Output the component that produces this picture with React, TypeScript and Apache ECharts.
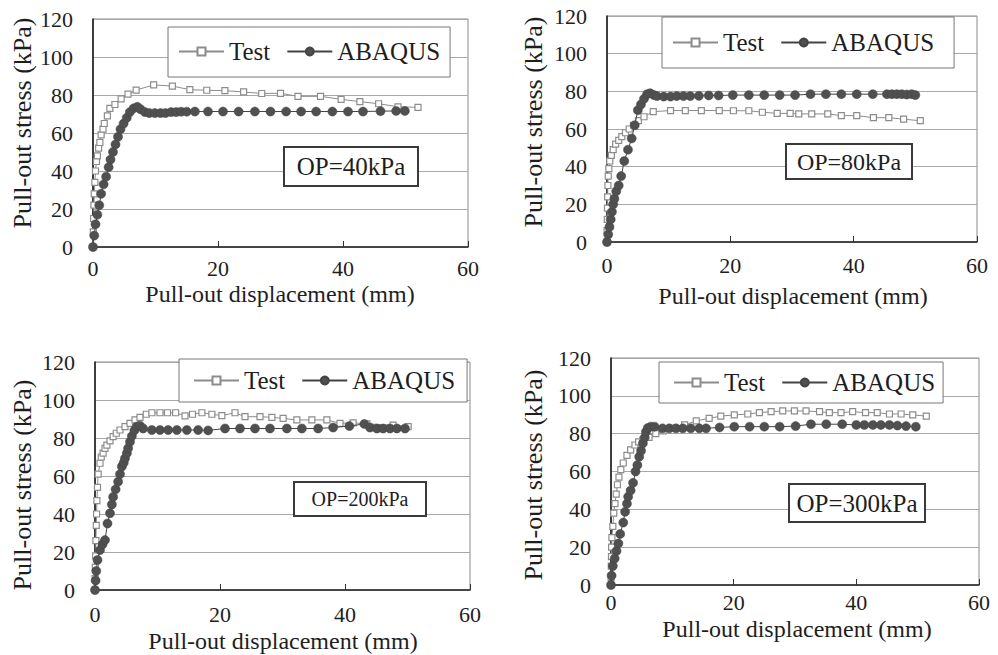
import React, { useEffect, useRef } from "react";
import * as echarts from "echarts";

const seriesNames = ["Test", "ABAQUS"];
const panelLabels = ["OP=40kPa", "OP=80kPa", "OP=200kPa", "OP=300kPa"];
const xAxisTitle = "Pull-out displacement (mm)";
const yAxisTitle = "Pull-out stress (kPa)";
const xRange = [0, 60, 20];
const yRange = [0, 120, 20];

const test40 = [[0,0],[0.05,8],[0.1,15],[0.15,22],[0.2,28],[0.3,34],[0.4,40],[0.55,45],[0.7,48],[0.9,52],[1.1,55],[1.3,59],[1.6,62],[1.8,65],[2.3,69],[2.7,73],[3.5,75],[4.5,78],[5.6,80.5],[6.9,82.6],[9.7,85.3],[12.7,84.7],[15.5,82.8],[18.2,82.5],[21.1,82.3],[24.1,81.6],[27,80.8],[30,80.9],[32.8,79.3],[36.4,79.3],[39.7,77.7],[42.7,76.5],[45.7,75.4],[48.8,73.8],[52,73.5]];
const abaqus40 = [[0,0],[0.2,6],[0.4,12],[0.7,17],[1.0,22],[1.3,28],[1.7,33],[2.1,37],[2.5,42],[2.8,46],[3.2,50],[3.6,54],[4.0,58],[4.4,62],[4.9,65],[5.4,68],[5.9,71],[6.5,73],[7.1,73.8],[7.6,72.5],[8.3,71],[9.0,70.5],[9.9,70.5],[10.8,70.5],[11.6,70.5],[12.5,71],[13.3,71],[14.1,71.2],[15.0,71.2],[16.3,71.3],[18.4,71.3],[20.8,71.3],[23.3,71.3],[25.9,71.3],[28.4,71.3],[30.9,71.3],[33.3,71.3],[35.7,71.3],[38.3,71.3],[40.8,71.3],[43.2,71.3],[46.0,71.5],[48.5,71.6],[49.9,71.6]];

const test80 = [[0,0],[0.02,6],[0.05,12],[0.08,18],[0.1,24],[0.15,30],[0.2,35],[0.3,39],[0.45,43],[0.7,46],[1.0,49],[1.4,52],[1.9,54],[2.4,56],[3.0,58],[3.6,60],[4.3,62],[5.1,64.5],[6.0,66.5],[7.5,69.2],[10.3,69.8],[12.7,69.8],[15.3,69.8],[18.2,69.8],[20.5,69.7],[23.0,69.7],[25.2,68.9],[27.6,68.3],[29.7,68.3],[31.1,68],[33.2,68],[35.8,68],[38.0,67.1],[40.5,67.1],[43.2,66],[45.7,66],[48.1,65.2],[50.8,64.4]];
const abaqus80 = [[0,0],[0.2,4],[0.4,8],[0.6,12],[0.8,16],[1.0,20],[1.2,23],[1.5,27],[1.9,30],[2.3,35],[2.8,43],[3.4,49],[4.0,55],[4.5,62],[5.0,70],[5.5,73],[6.0,76],[6.5,78.5],[7.0,79],[7.6,78],[8.1,77.5],[9.2,77.2],[10.3,77.2],[11.3,77.5],[12.4,77.5],[13.5,77.5],[14.9,77.6],[16.5,77.8],[18.1,77.8],[20.4,78],[23.0,78],[25.5,78],[28.0,78],[30.5,78],[33.0,78.5],[35.5,78.5],[38.0,78.5],[40.5,78.5],[43.1,78.5],[45.4,78.5],[46.2,78.5],[47.0,78.5],[47.8,78.5],[48.6,78.3],[49.4,78.5],[50,78]];

const test200 = [[0,0],[0.02,6],[0.05,12],[0.1,18],[0.15,26],[0.2,34],[0.25,40],[0.3,47],[0.4,54],[0.5,61],[0.8,66.7],[1.0,70],[1.3,72],[1.6,74.5],[1.9,76.3],[2.4,78.5],[2.9,80.7],[3.4,82.5],[4.0,84.2],[4.8,86],[5.6,87.7],[6.4,89.5],[7.2,90.9],[8.2,92.5],[9.1,93.3],[10.4,93.3],[11.6,93.3],[12.9,93.3],[14.4,91.6],[15.6,92.5],[17.1,93.3],[18.7,92.5],[20.3,91.8],[22.4,93.3],[24,91.2],[26.4,91.2],[28.3,90.9],[30.1,90.3],[32.3,89.5],[34.7,89.5],[37.1,89.5],[39.2,87.7],[41.3,88],[43.5,87.4],[47.7,86.8],[50.1,86]];
const abaqus200 = [[0,0],[0.1,5],[0.2,10],[0.4,15.8],[0.8,21],[1.2,24],[1.6,26.3],[2.0,35],[2.4,40.4],[2.7,45],[2.9,49],[3.3,53],[3.7,57],[4.0,61],[4.3,65],[4.6,67],[4.8,69.3],[5.1,72],[5.3,74.6],[5.6,78],[5.9,81],[6.3,84],[6.7,86],[7.2,86.5],[7.7,85],[9.1,84.2],[10.4,84.2],[11.7,84.2],[13.1,84.2],[14.7,84.2],[16.5,84.2],[18.1,84],[20.8,85],[23.2,85],[25.6,85],[28,85],[30.7,85],[33.1,85],[35.7,85],[38.1,85.5],[40.7,86.3],[43.1,87.4],[44,85.5],[45.1,85],[46.1,85],[47.2,85],[48.3,85],[49.6,85]];

const test300 = [[0,0],[0.02,4],[0.05,10],[0.08,15],[0.1,20],[0.15,25],[0.3,31],[0.45,38],[0.65,43],[0.85,48],[1.05,53],[1.3,57],[1.6,61],[2.0,64.5],[2.6,68.5],[3.2,71.4],[3.9,74],[4.5,75.7],[5.2,76.6],[6.2,78],[7.3,80],[8.5,81.5],[10,83],[12,84.6],[13.9,86.8],[16,88.1],[17.9,89.3],[20.1,89.9],[22.3,90.4],[24.2,91.1],[26.1,91.6],[28,92],[29.9,92],[31.8,92],[34,91.6],[35.6,91.1],[37.5,91.1],[39.4,91.6],[41.5,91.1],[43.4,91.1],[45.4,90.4],[47.3,90.4],[49.2,89.9],[51.4,89.3]];
const abaqus300 = [[0,0],[0.1,5],[0.3,10],[0.6,14],[0.9,18],[1.2,22],[1.5,27],[2.0,33],[2.3,38.7],[2.6,43],[2.8,46.7],[3.2,50],[3.6,54],[4.0,60],[4.3,63.4],[4.6,67.8],[4.9,71],[5.2,74.9],[5.5,78],[5.7,81],[6.0,83],[6.5,83.7],[7.1,83.7],[8.4,82.8],[9.5,82.8],[10.6,82.8],[11.7,82.8],[13.0,82.8],[14.4,82.8],[15.5,82.8],[17.7,83.3],[20.1,83.7],[22.6,83.7],[25.0,83.7],[27.5,83.7],[30.1,84],[32.6,85],[35.1,85],[37.7,85],[40,84.6],[41.3,84.6],[42.7,84.6],[44,84.6],[45.4,84.6],[46.7,84.3],[48.1,84],[49.7,83.7]];

const testSeries = [test40, test80, test200, test300];
const abaqusSeries = [abaqus40, abaqus80, abaqus200, abaqus300];

const FONT = "Liberation Serif";
const INK = "#1e1e1e";

// layout per panel (pixels)
const layouts = [
  { grid: { left: 93, top: 19, width: 375, height: 228 }, legend: { left: 168, top: 27, pad: [12, 10, 13, 10] }, op: { x: 284, y: 147, w: 134, h: 39, fs: 25 }, yT: [22, 123], xT: [280, 294], xm: 10 },
  { grid: { left: 607, top: 16, width: 370, height: 226 }, legend: { left: 662, top: 17, pad: [13, 20, 13, 10] }, op: { x: 786, y: 144, w: 126, h: 35, fs: 24 }, yT: [533, 122], xT: [793, 296], xm: 12 },
  { grid: { left: 95, top: 362, width: 375, height: 228 }, legend: { left: 179, top: 359, pad: [9, 12, 9, 14] }, op: { x: 294, y: 482, w: 132, h: 34, fs: 20 }, yT: [22, 485], xT: [283, 641], xm: 13 },
  { grid: { left: 611, top: 358, width: 368, height: 227 }, legend: { left: 659, top: 362, pad: [8, 8, 8, 14] }, op: { x: 789, y: 484, w: 136, h: 38, fs: 25 }, yT: [533, 475], xT: [797, 629], xm: 6 },
];

export default function App() {
  const ref = useRef<HTMLDivElement>(null);
  useEffect(() => {
    const chart = echarts.init(ref.current!, null, { renderer: "svg" });
    const grid: any[] = [];
    const xAxis: any[] = [];
    const yAxis: any[] = [];
    const legend: any[] = [];
    const series: any[] = [];
    const graphic: any[] = [];
    layouts.forEach((L, i) => {
      grid.push({ ...L.grid, show: true, borderColor: "#8a8a8a", borderWidth: 1, backgroundColor: "transparent" });
      xAxis.push({
        type: "value", gridIndex: i, min: xRange[0], max: xRange[1], interval: xRange[2],
        axisLine: { show: true, onZero: false, lineStyle: { color: "#222", width: 1.5 } },
        axisTick: { show: true, inside: true, length: 6, lineStyle: { color: "#333" } },
        axisLabel: { color: INK, fontSize: 22, fontFamily: FONT, margin: L.xm },
        splitLine: { show: false },
      });
      yAxis.push({
        type: "value", gridIndex: i, min: yRange[0], max: yRange[1], interval: yRange[2],
        axisLine: { show: true, onZero: false, lineStyle: { color: "#111", width: 1.5 } },
        axisTick: { show: false },
        axisLabel: { color: INK, fontSize: 22, fontFamily: FONT, margin: 20 },
        splitLine: { show: true, lineStyle: { color: "#a8a8a8", width: 1 } },
      });
      legend.push({
        left: L.legend.left, top: L.legend.top, padding: L.legend.pad,
        orient: "horizontal", itemWidth: 45, itemHeight: 10, itemGap: 16,
        data: seriesNames, selectedMode: false,
        backgroundColor: "#fff", borderColor: "#777", borderWidth: 1, borderRadius: 0,
        textStyle: { color: INK, fontSize: 25, fontFamily: FONT },
      });
      series.push({
        type: "line", name: seriesNames[0], xAxisIndex: i, yAxisIndex: i, data: testSeries[i],
        symbol: "rect", symbolSize: 6, showAllSymbol: true,
        lineStyle: { color: "#8c8c8c", width: 1 },
        itemStyle: { color: "#fff", borderColor: "#8c8c8c", borderWidth: 1.2 },
        z: 3,
      });
      series.push({
        type: "line", name: seriesNames[1], xAxisIndex: i, yAxisIndex: i, data: abaqusSeries[i],
        symbol: "circle", symbolSize: 9, showAllSymbol: true,
        lineStyle: { color: "#444", width: 1 },
        itemStyle: { color: "#505050", borderColor: "#444", borderWidth: 0.5 },
        z: 4,
      });
      graphic.push({
        type: "rect", shape: { x: L.op.x, y: L.op.y, width: L.op.w, height: L.op.h },
        style: { fill: "#fff", stroke: "#3a3a3a", lineWidth: 2 }, z: 10,
      });
      graphic.push({
        type: "text", x: L.op.x + L.op.w / 2, y: L.op.y + L.op.h / 2, z: 11,
        style: { text: panelLabels[i], fill: INK, fontSize: L.op.fs, fontFamily: FONT, textAlign: "center", textVerticalAlign: "middle" },
      });
      graphic.push({
        type: "text", x: L.yT[0], y: L.yT[1], rotation: Math.PI / 2, z: 11,
        style: { text: yAxisTitle, fill: INK, fontSize: 26, fontFamily: FONT, textAlign: "center", textVerticalAlign: "middle" },
      });
      graphic.push({
        type: "text", x: L.xT[0], y: L.xT[1], z: 11,
        style: { text: xAxisTitle, fill: INK, fontSize: 24, fontFamily: FONT, textAlign: "center", textVerticalAlign: "middle" },
      });
    });
    chart.setOption({
      animation: false,
      backgroundColor: "#fff",
      grid, xAxis, yAxis, legend, series, graphic,
    });
    return () => chart.dispose();
  }, []);
  return <div ref={ref} style={{ position: "absolute", left: 0, top: 0, width: 998, height: 655, background: "#fff" }} />;
}
